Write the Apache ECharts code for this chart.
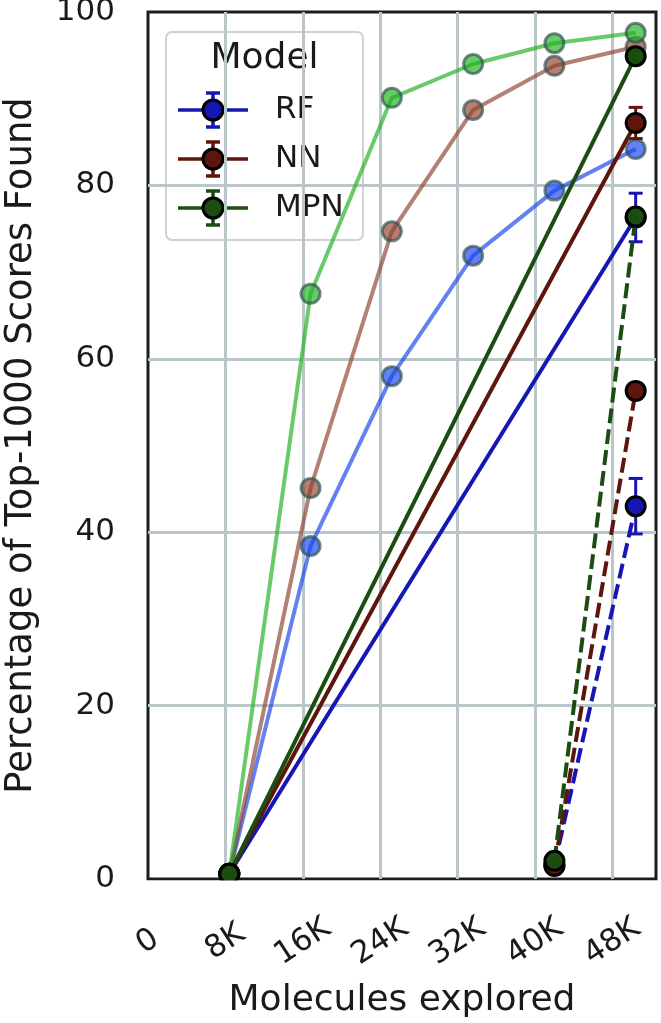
<!DOCTYPE html>
<html><head><meta charset="utf-8">
<script src="https://cdn.jsdelivr.net/npm/echarts@6/dist/echarts.min.js"></script>
<style>html,body{margin:0;padding:0;background:#fff}#c{width:661px;height:1023px}</style>
</head><body><div id="c"></div>
<script>
// ---- data ----
const models = ['RF', 'NN', 'MPN'];
const iterX = [8400, 16800, 25200, 33600, 42000, 50400];
const rfIter = [0.6, 38.4, 58.0, 71.9, 79.4, 84.2];
const nnIter = [0.6, 45.1, 74.7, 88.7, 93.8, 96.0];
const mpnIter = [0.6, 67.5, 90.1, 94.0, 96.4, 97.6];
const singleX = [8400, 50400];
const rfSingle = [0.6, 76.3];
const rfSingleErr = [0.2, 2.8];
const nnSingle = [0.6, 87.2];
const nnSingleErr = [0.2, 1.8];
const mpnSingle = [0.6, 94.9];
const mpnSingleErr = [0.2, 0.5];
const lateX = [42000, 50400];
const rfLate = [1.6, 43.0];
const rfLateErr = [0.3, 3.2];
const nnLate = [1.5, 56.3];
const nnLateErr = [0.3, 0.8];
const mpnLate = [2.1, 76.4];
const mpnLateErr = [0.3, 0.8];
const xTickStep = 8000;
const yTickStep = 20;

// ---- styles ----
const FONT = 'DejaVu Sans';
const darkCol = {RF: '#1616b4', NN: '#5e150b', MPN: '#1b4d10'};
const lightCol = {RF: '#1a45ea', NN: '#8e4530', MPN: '#22b122'};
const GL = 148, GR = 5, GT = 12, GB = 144;

function pairs(xs, ys) { return xs.map((x, i) => [x, ys[i]]); }

function lightSeries(name, ys) {
  return {
    type: 'line', name: name + ' iter', z: 2, data: pairs(iterX, ys),
    symbol: 'circle', symbolSize: 19,
    lineStyle: {color: lightCol[name], width: 4, opacity: 0.68},
    itemStyle: {color: lightCol[name], borderColor: '#2f4f4f', borderWidth: 3, opacity: 0.68},
    emphasis: {disabled: true}, silent: true
  };
}
function darkSeries(name, xs, ys, dashed, z) {
  return {
    type: 'line', name: name + (dashed ? ' late' : ' single'), z: z, data: pairs(xs, ys),
    symbol: 'circle', symbolSize: 19,
    lineStyle: {color: darkCol[name], width: 4, type: dashed ? [15, 6] : 'solid'},
    itemStyle: {color: darkCol[name], borderColor: '#000', borderWidth: 3, opacity: 1},
    emphasis: {disabled: true}, silent: true
  };
}
function errSeries(name, xs, ys, errs, z) {
  const color = darkCol[name];
  return {
    type: 'custom', z: z, silent: true,
    data: xs.map((x, i) => [x, ys[i] - errs[i], ys[i] + errs[i]]),
    encode: {x: 0, y: [1, 2]},
    renderItem(params, api) {
      const x = api.value(0), lo = api.value(1), hi = api.value(2);
      const p1 = api.coord([x, lo]), p2 = api.coord([x, hi]);
      const w = 7;
      const style = {stroke: color, lineWidth: 3, fill: null};
      return {type: 'group', children: [
        {type: 'line', shape: {x1: p1[0], y1: p1[1], x2: p2[0], y2: p2[1]}, style},
        {type: 'line', shape: {x1: p1[0] - w, y1: p1[1], x2: p1[0] + w, y2: p1[1]}, style},
        {type: 'line', shape: {x1: p2[0] - w, y1: p2[1], x2: p2[0] + w, y2: p2[1]}, style}
      ]};
    }
  };
}

const series = [
  lightSeries('RF', rfIter), lightSeries('NN', nnIter), lightSeries('MPN', mpnIter),
  errSeries('RF', singleX, rfSingle, rfSingleErr, 3),
  errSeries('NN', singleX, nnSingle, nnSingleErr, 3),
  errSeries('MPN', singleX, mpnSingle, mpnSingleErr, 3),
  darkSeries('RF', singleX, rfSingle, false, 4),
  darkSeries('NN', singleX, nnSingle, false, 4),
  darkSeries('MPN', singleX, mpnSingle, false, 4),
  errSeries('RF', lateX, rfLate, rfLateErr, 5),
  errSeries('NN', lateX, nnLate, nnLateErr, 5),
  errSeries('MPN', lateX, mpnLate, mpnLateErr, 5),
  darkSeries('RF', lateX, rfLate, true, 6),
  darkSeries('NN', lateX, nnLate, true, 6),
  darkSeries('MPN', lateX, mpnLate, true, 6)
];

// ---- legend (graphic) ----
const legItems = [];
const legX0 = 166, legY0 = 32, legW = 197, legH = 208;
legItems.push({type: 'rect', shape: {x: legX0, y: legY0, width: legW, height: legH, r: 6},
  style: {fill: 'rgba(255,255,255,0.8)', stroke: '#cdd3d3', lineWidth: 2}});
legItems.push({type: 'text', x: legX0 + legW / 2, y: 59,
  style: {text: 'Model', font: '36px "' + FONT + '"', fill: '#1a1a1a', align: 'center', verticalAlign: 'middle'}});
models.forEach((m, i) => {
  const cy = 110 + i * 49;
  const st = {stroke: darkCol[m], lineWidth: 3.5};
  legItems.push({type: 'line', shape: {x1: 178, y1: cy, x2: 248, y2: cy}, style: st});
  legItems.push({type: 'line', shape: {x1: 213, y1: cy - 17, x2: 213, y2: cy + 17}, style: st});
  legItems.push({type: 'line', shape: {x1: 206, y1: cy - 17, x2: 220, y2: cy - 17}, style: st});
  legItems.push({type: 'line', shape: {x1: 206, y1: cy + 17, x2: 220, y2: cy + 17}, style: st});
  legItems.push({type: 'circle', shape: {cx: 213, cy: cy, r: 10}, style: {fill: darkCol[m], stroke: '#000', lineWidth: 3}});
  legItems.push({type: 'text', x: 275, y: cy,
    style: {text: m, font: '31px "' + FONT + '"', fill: '#1a1a1a', align: 'left', verticalAlign: 'middle'}});
});

const option = {
  animation: false,
  backgroundColor: '#fff',
  grid: {left: GL, right: GR, top: GT, bottom: GB, show: true, outerBoundsMode: 'none', containLabel: false,
    borderColor: '#1c1c1c', borderWidth: 3, backgroundColor: 'transparent'},
  xAxis: {
    type: 'value', min: 0, max: 52500, interval: xTickStep,
    name: 'Molecules explored', nameLocation: 'middle', nameGap: 104,
    nameTextStyle: {fontFamily: FONT, fontSize: 36, color: '#1a1a1a'},
    axisLine: {show: false}, axisTick: {show: false},
    axisLabel: {
      fontFamily: FONT, fontSize: 31, color: '#1a1a1a', rotate: 33, margin: 63,
      align: 'center', verticalAlign: 'middle', showMaxLabel: false,
      formatter: v => (v % xTickStep !== 0) ? '' : (v === 0 ? '0' : (v / 1000) + 'K')
    },
    splitLine: {show: true, showMinLine: false, showMaxLine: false, lineStyle: {color: '#b9c7c9', width: 3}}
  },
  yAxis: {
    type: 'value', min: 0, max: 100, interval: yTickStep,
    name: 'Percentage of Top-1000 Scores Found', nameLocation: 'middle', nameGap: 108,
    nameTextStyle: {fontFamily: FONT, fontSize: 37, color: '#1a1a1a'},
    axisLine: {show: false}, axisTick: {show: false},
    axisLabel: {fontFamily: FONT, fontSize: 31, color: '#1a1a1a', margin: 33},
    splitLine: {show: true, showMinLine: false, showMaxLine: false, lineStyle: {color: '#b9c7c9', width: 3}}
  },
  graphic: [
    {type: 'rect', z: 50, shape: {x: 120, y: 880.6, width: 541, height: 16}, style: {fill: '#fff'}, silent: true},
    {type: 'group', z: 60, children: legItems, silent: true}
  ],
  series: series
};
const chart = echarts.init(document.getElementById('c'), null, {renderer: 'canvas'});
chart.setOption(option);
</script></body></html>
